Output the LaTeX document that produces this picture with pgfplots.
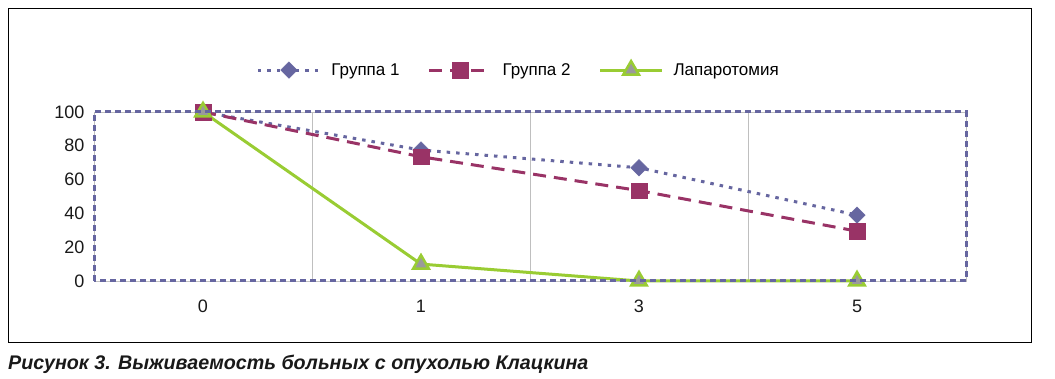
\documentclass[border=0pt]{standalone}
\usepackage{fontspec}
\setmainfont{Liberation Sans}
\usepackage{pgfplots}
\pgfplotsset{compat=1.18}
\definecolor{gA}{HTML}{6666A0}
\definecolor{gB}{HTML}{993366}
\definecolor{gC}{HTML}{99CC33}
\definecolor{triF}{HTML}{9A9A9A}
\definecolor{gridc}{HTML}{BFBFBF}
\begin{document}
\begin{tikzpicture}[x=1pt,y=1pt]
\useasboundingbox (-94,-98) rectangle (961,281);
\draw[black, line width=0.8pt] (-86,-61) rectangle (937,273);
\begin{axis}[
  at={(0,0)}, anchor=south west,
  scale only axis, width=872pt, height=169pt,
  xmin=-0.5, xmax=3.5, ymin=0, ymax=100,
  xtick={0,1,2,3}, xticklabels={0,1,3,5},
  ytick={0,20,40,60,80,100},
  extra x ticks={0.5,1.5,2.5}, extra x tick labels={},
  extra x tick style={grid=major, major grid style={draw=gridc, line width=0.8pt}},
  major tick length=0pt,
  axis line style={draw=gridc, line width=0.8pt},
  tick label style={font=\fontsize{18}{20}\selectfont, text=black!90},
  /pgf/number format/assume math mode=true,
  yticklabel style={xshift=-6pt},
  xticklabel style={yshift=-15pt, text height=13pt, text depth=0pt},
  clip=false,
  legend columns=3,
  legend style={at={(0.487,1.249)}, anchor=center, draw=none, fill=none,
    font=\fontsize{17}{19}\selectfont, column sep=8pt,
    /tikz/every even column/.append style={column sep=26pt}},
  legend image code/.code={\draw[mark repeat=2,mark phase=2] plot coordinates {(0pt,0pt) (31pt,0pt) (62pt,0pt)};},
  after end axis/.code={\draw[gA, line width=3pt, dash pattern=on 6pt off 4pt] (rel axis cs:0,0) rectangle (rel axis cs:1,1);},
]
\addplot[gA, line width=3pt, dash pattern=on 3.5pt off 6pt, mark=square*, mark size=5.8pt, mark options={solid, rotate=45, fill=gA, draw=gA, line width=0.5pt}]
  coordinates {(0,100) (1,77.5) (2,67) (3,39)};
\addlegendentry{Группа 1}
\addplot[gB, line width=3pt, dash pattern=on 13pt off 8pt, mark=square*, mark size=7.8pt, mark options={solid, fill=gB, draw=gB, line width=0.5pt}]
  coordinates {(0,100) (1,73.5) (2,53.5) (3,29.5)};
\addlegendentry{Группа 2}
\addplot[gC, line width=3pt, mark=triangle*, mark size=9pt, mark options={solid, fill=triF, draw=gC, line width=2.5pt}]
  coordinates {(0,100) (1,10) (2,0) (3,0)};
\addlegendentry{Лапаротомия}
\end{axis}
\node[anchor=base west, inner sep=0pt, font=\fontsize{19.7}{22}\selectfont\bfseries\itshape, text=black!90] at (-86,-89) {Рисунок 3. Выживаемость больных с опухолью Клацкина};
\end{tikzpicture}
\end{document}
